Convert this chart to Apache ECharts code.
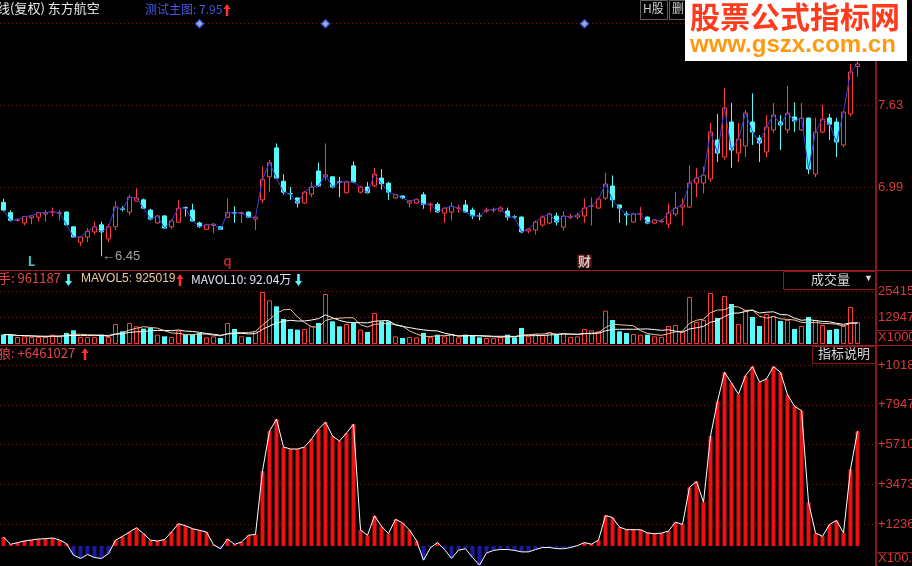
<!DOCTYPE html>
<html><head><meta charset="utf-8">
<script src="https://cdn.jsdelivr.net/npm/echarts@6/dist/echarts.min.js"></script>
<style>html,body{margin:0;padding:0;background:#000;overflow:hidden}#c{width:912px;height:566px}</style>
</head><body><div id="c"></div>
<script>
// ---- data ----
const opens  = [6.87,6.79,6.73,6.71,6.75,6.755,6.78,6.795,6.785,6.795,6.68,6.56,6.60,6.64,6.695,6.585,6.68,6.82,6.795,6.88,6.89,6.81,6.71,6.765,6.68,6.715,6.83,6.81,6.71,6.66,6.69,6.68,6.755,6.79,6.785,6.795,6.74,6.89,7.07,7.295,7.035,6.94,6.905,6.865,6.935,7.115,7.07,7.07,7.03,6.945,7.155,6.95,6.99,7.00,7.06,7.02,6.905,6.92,6.865,6.865,6.93,6.85,6.855,6.787,6.795,6.825,6.85,6.81,6.765,6.803,6.81,6.803,6.803,6.757,6.756,6.647,6.655,6.694,6.709,6.764,6.678,6.755,6.756,6.764,6.84,6.826,6.904,6.998,6.85,6.78,6.717,6.78,6.756,6.709,6.72,6.701,6.78,6.834,6.834,7.021,7.021,7.052,7.357,7.224,7.497,7.255,7.31,7.497,7.372,7.263,7.435,7.497,7.435,7.536,7.435,7.528,7.091,7.419,7.528,7.497,7.318,7.56,7.93];
const closes = [6.81,6.73,6.735,6.76,6.765,6.79,6.79,6.797,6.79,6.695,6.60,6.60,6.645,6.68,6.64,6.68,6.835,6.817,6.91,6.905,6.825,6.74,6.765,6.67,6.725,6.825,6.826,6.725,6.68,6.695,6.70,6.66,6.79,6.787,6.79,6.755,6.755,7.05,7.18,7.06,6.95,6.936,6.865,6.95,6.99,7.00,7.085,6.99,7.028,7.03,7.03,6.99,6.945,7.09,7.015,6.95,6.93,6.905,6.88,6.895,6.855,6.857,6.795,6.825,6.84,6.826,6.795,6.765,6.764,6.81,6.815,6.826,6.756,6.756,6.64,6.662,6.717,6.756,6.78,6.717,6.764,6.756,6.772,6.826,6.842,6.896,7.013,6.889,6.826,6.772,6.78,6.78,6.709,6.733,6.725,6.787,6.826,6.85,7.021,7.06,7.084,7.419,7.255,7.607,7.279,7.364,7.567,7.419,7.333,7.458,7.552,7.474,7.567,7.505,7.528,7.13,7.419,7.52,7.48,7.341,7.575,7.887,7.95];
const lows   = [6.80,6.72,6.72,6.69,6.70,6.72,6.72,6.76,6.73,6.69,6.595,6.53,6.56,6.62,6.45,6.56,6.655,6.80,6.77,6.88,6.82,6.73,6.70,6.665,6.66,6.71,6.76,6.72,6.67,6.655,6.63,6.655,6.75,6.71,6.71,6.75,6.655,6.865,6.95,7.05,6.93,6.89,6.83,6.86,6.91,6.99,7.04,6.98,6.91,6.94,7.02,6.94,6.94,6.99,6.97,6.89,6.90,6.895,6.83,6.86,6.82,6.795,6.79,6.71,6.73,6.79,6.79,6.74,6.73,6.79,6.79,6.80,6.73,6.74,6.63,6.63,6.62,6.68,6.70,6.69,6.65,6.74,6.74,6.71,6.69,6.82,6.89,6.83,6.71,6.69,6.71,6.73,6.70,6.70,6.71,6.67,6.76,6.69,6.83,6.91,6.94,7.03,7.185,7.20,7.14,7.185,7.224,7.318,7.185,7.22,7.41,7.279,7.41,7.42,7.427,7.09,7.068,7.41,7.357,7.224,7.30,7.54,7.85];
const highs  = [6.90,6.81,6.745,6.765,6.77,6.795,6.81,6.83,6.81,6.80,6.68,6.605,6.67,6.72,6.72,6.70,6.88,6.84,6.93,6.98,6.90,6.82,6.77,6.77,6.74,6.89,6.84,6.86,6.72,6.70,6.71,6.68,6.90,6.84,6.80,6.80,6.76,7.15,7.20,7.33,7.09,6.99,6.91,6.96,7.03,7.18,7.33,7.07,7.07,7.04,7.19,7.00,7.03,7.14,7.13,7.03,6.935,6.92,6.89,6.90,6.95,6.87,6.87,6.83,6.87,6.85,6.89,6.83,6.79,6.83,6.83,6.84,6.83,6.77,6.76,6.67,6.73,6.77,6.79,6.79,6.80,6.78,6.79,6.90,6.91,6.91,7.10,7.08,6.85,6.80,6.79,6.835,6.76,6.74,6.74,6.86,6.95,6.90,7.16,7.14,7.15,7.49,7.56,7.76,7.645,7.49,7.59,7.72,7.395,7.55,7.645,7.55,7.78,7.65,7.645,7.53,7.53,7.63,7.56,7.53,7.59,7.95,7.98];
const volumes = [4480,4480,3360,3680,3360,3360,3360,4480,3680,5280,6560,3360,3360,3360,4480,3360,9600,6080,10080,8480,7360,7680,4480,3680,3360,6400,4480,4480,5280,3200,3680,2880,10080,7200,3680,3360,6080,24960,20960,18080,12000,7200,6880,7200,8480,10080,24000,10880,8480,9600,10080,6880,5760,14880,10880,10880,3680,2880,3360,3200,5280,3360,4480,3680,4800,3200,4480,4000,3200,2880,2880,3360,4480,3200,7680,3680,4800,4480,5760,4800,5280,3360,3680,7200,6560,6080,16000,11520,6080,5280,4800,4480,4480,3680,3360,8640,9120,6080,22560,10560,11520,24480,12480,23040,19200,9600,16320,12960,8640,14400,13440,11040,11520,7200,8640,12960,11520,9120,6720,7200,8640,17760,10560];
const wolfValues = [500,90,186,280,335,390,410,450,335,130,-520,-705,-485,-650,-705,-430,320,540,785,1025,690,320,280,355,785,1250,1140,970,880,785,70,-160,390,90,220,600,650,4230,6470,7140,5570,5460,5460,5570,6020,6580,6970,6190,5910,6360,6860,900,600,1700,1100,700,1500,1300,900,300,-800,-100,190,-200,-700,-240,-160,-650,-1080,-400,-250,-200,-200,-250,-335,-335,-200,-90,-90,-150,-160,-90,20,190,100,330,1715,1600,1060,915,915,915,730,690,720,840,1340,1210,3300,3630,2460,6190,8145,9780,9170,8550,9600,10100,9225,9410,10100,9780,8515,7865,7625,2460,730,540,1210,1435,730,4325,6461];
const priceTicks = [6.99, 7.63, 8.27];
const volTicks = [12947, 25415];
const wolfTicks = [1236, 3473, 5710, 7947, 10184];
const signalIdx = [28, 46, 83];
const textMarks = [{idx: 4, text: 'L'}, {idx: 32, text: 'q'}, {idx: 83, text: '财'}];
const lowMarkIdx = 14;
const N_SLOTS = 125;
const categories = Array.from({length: N_SLOTS}, (_, i) => String(i + 1));

// ---- chart ----
const PMIN = 6.343, PMAX = 8.308;
const VMAX = 26880;
const WMIN = -1130, WMAX = 10360;
const RED = '#ff3c3c', CYAN = '#54fcfc', AX = '#d83a3a', GRIDC = '#7a1a1a';
const FONT = '"Liberation Sans", Arial, sans-serif';
const CJK = '"Noto Sans CJK SC", sans-serif';

function ma(arr, n) {
  return arr.map((v, i) => {
    const s = arr.slice(Math.max(0, i - n + 1), i + 1);
    return +(s.reduce((a, b) => a + b, 0) / s.length).toFixed(1);
  });
}
const isUp = closes.map((c, i) => c >= opens[i]);

// thick arrow glyph drawn as a polygon (up = true points up)
function arrow(cx, top, up, color) {
  const h = 12, hw = 3.5, sw = 1.3, head = 5;
  const pts = up
    ? [[cx, top], [cx + hw, top + head], [cx + sw, top + head], [cx + sw, top + h], [cx - sw, top + h], [cx - sw, top + head], [cx - hw, top + head]]
    : [[cx, top + h], [cx + hw, top + h - head], [cx + sw, top + h - head], [cx + sw, top], [cx - sw, top], [cx - sw, top + h - head], [cx - hw, top + h - head]];
  return {type: 'polygon', shape: {points: pts}, style: {fill: color}, z: 60};
}

const chart = echarts.init(document.getElementById('c'), null, {renderer: 'canvas'});
const gridBase = {left: 0, right: 37, containLabel: false, outerBoundsMode: 'none'};
const grids = [
  Object.assign({top: 18, height: 252}, gridBase),
  Object.assign({top: 288, height: 56}, gridBase),
  Object.assign({top: 362, height: 204}, gridBase)
];
function xAx(gi) {
  return {type: 'category', gridIndex: gi, data: categories, boundaryGap: true,
    axisLine: {show: false}, axisTick: {show: false}, axisLabel: {show: false}, splitLine: {show: false}};
}
function yAx(gi, min, max, ticks, fmt) {
  return {type: 'value', gridIndex: gi, position: 'right', min: min, max: max, scale: false,
    axisLine: {show: true, lineStyle: {color: '#8a1818', width: 1}},
    axisTick: {show: false, customValues: ticks},
    axisLabel: {show: true, customValues: ticks, color: AX, fontSize: 13, fontFamily: FONT, margin: 3, formatter: fmt, hideOverlap: false},
    splitLine: {show: true, lineStyle: {color: GRIDC, type: [1, 3], width: 1}}};
}
const hidden = {color: 'rgba(0,0,0,0)', borderWidth: 0};

const option = {
  backgroundColor: '#000',
  animation: false,
  grid: grids,
  xAxis: [xAx(0), xAx(1), xAx(2)],
  yAxis: [
    yAx(0, PMIN, PMAX, priceTicks, v => v.toFixed(2)),
    yAx(1, 0, VMAX, volTicks, v => String(v)),
    yAx(2, WMIN, WMAX, wolfTicks, v => '+' + v)
  ],
  series: [
    {type: 'candlestick', xAxisIndex: 0, yAxisIndex: 0, barWidth: 5,
     data: opens.map((o, i) => [o, closes[i], lows[i], highs[i]]),
     itemStyle: {color: '#000', color0: CYAN, borderColor: RED, borderColor0: CYAN, borderWidth: 1}},
    {type: 'line', xAxisIndex: 0, yAxisIndex: 0, data: closes, symbol: 'none',
     lineStyle: {color: '#3a40e0', width: 1}, z: 3},
    {type: 'scatter', xAxisIndex: 0, yAxisIndex: 0, symbol: 'diamond', symbolSize: 8,
     data: signalIdx.map(i => [i, PMAX - 0.045]),
     itemStyle: {color: '#c8d4ff', borderColor: '#3a58ff', borderWidth: 1.5}},
    {type: 'scatter', xAxisIndex: 0, yAxisIndex: 0, symbol: 'circle', symbolSize: 1, itemStyle: hidden, z: 10,
     data: textMarks.map(m => ({value: [m.idx, PMIN + 0.07], name: m.text,
       label: {show: true, formatter: m.text, position: 'inside', fontWeight: 'bold', fontSize: 13,
         fontFamily: CJK,
         color: m.text === 'L' ? CYAN : (m.text === 'q' ? '#e03030' : '#f4f4f4'),
         backgroundColor: m.text === '财' ? '#6a0c0c' : 'transparent', padding: m.text === '财' ? [0, 1] : 0}}))},
    {type: 'scatter', xAxisIndex: 0, yAxisIndex: 0, symbol: 'circle', symbolSize: 1, itemStyle: hidden, z: 10,
     data: [{value: [lowMarkIdx, lows[lowMarkIdx]],
       label: {show: true, position: 'right', distance: 0, formatter: '←' + lows[lowMarkIdx].toFixed(2),
         color: '#c8c8c8', fontSize: 13, fontFamily: FONT}}]},
    {type: 'bar', xAxisIndex: 1, yAxisIndex: 1, barWidth: 5,
     data: volumes.map((v, i) => ({value: v,
       itemStyle: isUp[i] ? {color: '#000', borderColor: RED, borderWidth: 1} : {color: CYAN}}))},
    {type: 'line', xAxisIndex: 1, yAxisIndex: 1, data: ma(volumes, 5), symbol: 'none',
     lineStyle: {color: '#f0c898', width: 1}},
    {type: 'line', xAxisIndex: 1, yAxisIndex: 1, data: ma(volumes, 10), symbol: 'none',
     lineStyle: {color: '#ffffff', width: 1}},
    {type: 'bar', xAxisIndex: 2, yAxisIndex: 2, barWidth: 4,
     data: wolfValues.map(v => ({value: v, itemStyle: {color: v >= 0 ? '#ee1010' : '#1a1aa0'}}))},
    {type: 'line', xAxisIndex: 2, yAxisIndex: 2, data: wolfValues, symbol: 'none',
     lineStyle: {color: '#ffffff', width: 1}, z: 4}
  ],
  graphic: [
    {type: 'line', shape: {x1: 0, y1: 270.5, x2: 912, y2: 270.5}, style: {stroke: '#a01c1c', lineWidth: 1}, z: 50},
    {type: 'line', shape: {x1: 0, y1: 345.5, x2: 912, y2: 345.5}, style: {stroke: '#a01c1c', lineWidth: 1}, z: 50},
    {type: 'line', shape: {x1: 876.5, y1: 0, x2: 876.5, y2: 566}, style: {stroke: '#8a1818', lineWidth: 1}, z: 50},
    {type: 'line', shape: {x1: 876, y1: 330.5, x2: 912, y2: 330.5}, style: {stroke: '#8a1818', lineWidth: 1}, z: 50},
    {type: 'line', shape: {x1: 876, y1: 552.5, x2: 912, y2: 552.5}, style: {stroke: '#8a1818', lineWidth: 1}, z: 50},
    {type: 'text', left: -3, top: 2, style: {text: '线(复权) 东方航空', fill: '#e8e8e8', font: '13px ' + CJK}, z: 60},
    {type: 'rect', shape: {x: 104, y: 2, width: 40, height: 19}, style: {fill: '#000'}, z: 55},
    {type: 'text', left: 145, top: 3, style: {text: '测试主图: 7.95', fill: '#4a58e0', font: '12px ' + CJK}, z: 60},
    arrow(227, 4, true, '#ff3030'),
    {type: 'rect', shape: {x: 640.5, y: 0.5, width: 27, height: 19}, style: {fill: '#000', stroke: '#606060'}, z: 60},
    {type: 'text', left: 643, top: 2, style: {text: 'H股', fill: '#d0d0d0', font: '12px ' + CJK}, z: 61},
    {type: 'rect', shape: {x: 669.5, y: 0.5, width: 20, height: 19}, style: {fill: '#000', stroke: '#606060'}, z: 60},
    {type: 'text', left: 672, top: 2, style: {text: '删', fill: '#d0d0d0', font: '12px ' + CJK}, z: 61},
    {type: 'rect', shape: {x: 685, y: 0, width: 222, height: 61}, style: {fill: '#ffffff'}, z: 70},
    {type: 'text', left: 690, top: 2, style: {text: '股票公式指标网', fill: '#ff3b1c', font: 'bold 30px ' + CJK}, z: 71},
    {type: 'text', left: 690, top: 33, style: {text: 'www.gszx.com.cn', fill: '#ff9a10', font: 'bold 24px ' + FONT}, z: 71},
    {type: 'text', left: -2, top: 272, style: {text: '手: 961187', fill: '#e04848', font: '13px ' + CJK}, z: 60},
    arrow(68.5, 274, false, CYAN),
    {type: 'text', left: 81, top: 273, style: {text: 'MAVOL5: 925019', fill: '#f0c8a0', font: '12px ' + FONT}, z: 60},
    arrow(180, 274, true, '#ff3030'),
    {type: 'text', left: 191, top: 273, style: {text: 'MAVOL10: 92.04万', fill: '#e0e0f8', font: '12px ' + CJK}, z: 60},
    arrow(298.5, 274, false, CYAN),
    {type: 'rect', shape: {x: 783.5, y: 271.5, width: 92, height: 18}, style: {fill: '#000', stroke: '#8a1818'}, z: 60},
    {type: 'text', left: 811, top: 273, style: {text: '成交量', fill: '#d8d8d8', font: '13px ' + CJK}, z: 61},
    {type: 'text', left: 864, top: 274, style: {text: '▼', fill: '#d8d8d8', font: '9px ' + FONT}, z: 61},
    {type: 'text', left: 878, top: 331, style: {text: 'X1000', fill: AX, font: '13px ' + FONT}, z: 61},
    {type: 'text', left: -2, top: 347, style: {text: '狼: +6461027', fill: '#e04848', font: '13px ' + CJK}, z: 60},
    arrow(85, 348, true, '#ff3030'),
    {type: 'rect', shape: {x: 812.5, y: 346.5, width: 63, height: 17}, style: {fill: '#000', stroke: '#8a1818'}, z: 60},
    {type: 'text', left: 818, top: 347, style: {text: '指标说明', fill: '#d8d8d8', font: '13px ' + CJK}, z: 61},
    {type: 'text', left: 878, top: 552, style: {text: 'X100.0', fill: AX, font: '13px ' + FONT}, z: 61}
  ]
};
chart.setOption(option);
</script></body></html>
